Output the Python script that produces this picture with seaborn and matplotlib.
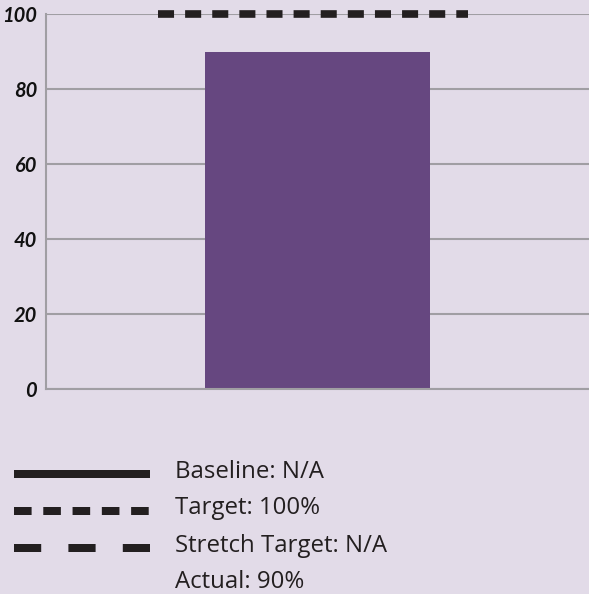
import matplotlib
matplotlib.use("Agg")
import matplotlib.pyplot as plt
from matplotlib.lines import Line2D
import seaborn as sns
import pandas as pd

categories = ["Actual"]
actual_values = [90]
target_value = 100
y_ticks = [0, 20, 40, 60, 80, 100]
legend_labels = ["Baseline: N/A", "Target: 100%", "Stretch Target: N/A", "Actual: 90%"]

BG = "#E2DBE8"
BAR = "#664780"
GRID = "#A09EA3"
DARK = "#231F20"

sns.set_theme(style="white")
plt.rcParams["font.family"] = ["Open Sans", "DejaVu Sans"]

fig = plt.figure(figsize=(5.89, 5.94), dpi=100, facecolor=BG)
ax = fig.add_axes([46/589, 1-389/594, 1-46/589, (389-14)/594])
ax.set_facecolor(BG)

df = pd.DataFrame({"cat": categories, "val": actual_values})
sns.barplot(data=df, x="cat", y="val", color=BAR, width=0.414, saturation=1,
            linewidth=0, edgecolor=BAR, ax=ax)

ax.set_xlim(-0.5, 0.5)
ax.set_ylim(0, 100)
ax.set_yticks(y_ticks)
ax.set_yticklabels([str(t) for t in y_ticks], fontfamily="Lato", fontweight="bold",
                   fontstyle="italic", fontsize=14.5, color="#111111")
ax.tick_params(axis="y", length=0, pad=6.5)
ax.set_xticks([])
ax.set_xlabel("")
ax.set_ylabel("")
ax.yaxis.grid(True, color=GRID, linewidth=1.5)
ax.set_axisbelow(True)
for s in ["top", "right"]:
    ax.spines[s].set_visible(False)
ax.spines["left"].set_color(GRID)
ax.spines["left"].set_linewidth(1.5)
ax.spines["bottom"].set_color(GRID)
ax.spines["bottom"].set_linewidth(1.5)

# target line
ax.hlines(target_value, -0.294, 0.277, colors=DARK, linewidth=5.5, linestyles=(0, (2.1, 1.45)),
          zorder=5, clip_on=False)

# legend (manual)
lx0, lx1 = 14/589, 150/589
tx = 175/589
line_ys = [474.3, 511, 548, None]
text_ys = [478, 514, 552, 588]
styles = ["-", (0, (2.2, 1.46)), (0, (3.4, 3.4)), None]
for ly, ty, st, lab in zip(line_ys, text_ys, styles, legend_labels):
    if st is not None:
        yf = 1 - ly/594
        fig.add_artist(Line2D([lx0, lx1], [yf, yf], transform=fig.transFigure,
                              color=DARK, linewidth=5.76, linestyle=st, solid_capstyle="butt",
                              dash_capstyle="butt"))
    fig.text(tx, 1 - ty/594, lab, fontsize=17.3, color="#231F20", va="baseline", ha="left")

fig.savefig("out.png", dpi=100, facecolor=BG)
